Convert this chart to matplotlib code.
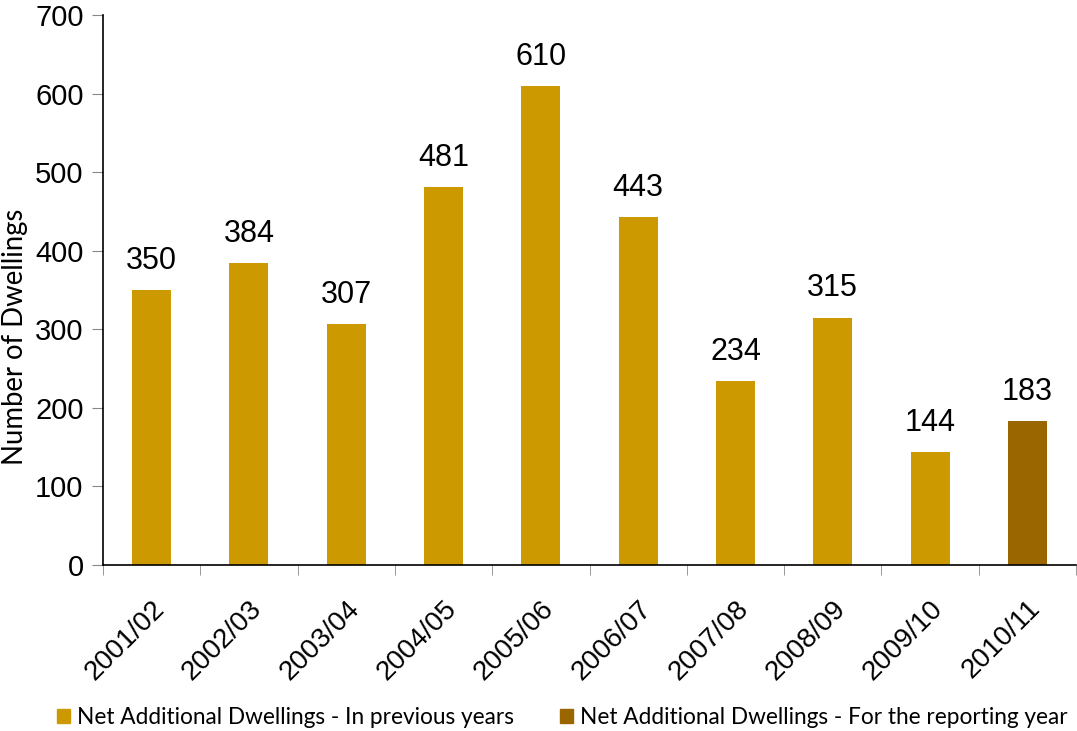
import numpy as np
import matplotlib.pyplot as plt
from matplotlib.patches import Patch

years = ["2001/02", "2002/03", "2003/04", "2004/05", "2005/06",
         "2006/07", "2007/08", "2008/09", "2009/10", "2010/11"]
dwellings = [350, 384, 307, 481, 610, 443, 234, 315, 144, 183]
reporting = [False] * 9 + [True]

prev_col = "#CC9900"
rep_col = "#996600"

fig = plt.figure(figsize=(10.77, 7.31), dpi=100)
ax = fig.add_axes([103 / 1077, 1 - 565 / 731, 973 / 1077, 550 / 731])

x = np.arange(len(years))
cols = [rep_col if r else prev_col for r in reporting]
bars = ax.bar(x, dwellings, width=0.4, color=cols)

for xi, v in zip(x, dwellings):
    ax.text(xi, v + 18, str(v), ha="center", va="bottom",
            fontsize=22, family="Liberation Sans")

ax.set_xlim(-0.5, len(years) - 0.5)
ax.set_ylim(0, 700)
ax.set_yticks(range(0, 701, 100))
ax.set_yticklabels([str(v) for v in range(0, 701, 100)],
                   fontsize=21, family="Liberation Sans")
ax.tick_params(axis="y", length=8, color="#888888", pad=6)

ax.set_xticks(x)
ax.set_xticklabels(years, rotation=45, ha="right", rotation_mode="anchor",
                   fontsize=20, family="Liberation Sans")
ax.tick_params(axis="x", which="major", length=0, pad=22)
ax.set_xticks(np.arange(-0.5, len(years), 1.0), minor=True)
ax.tick_params(axis="x", which="minor", length=7, color="#888888")

for s in ("top", "right"):
    ax.spines[s].set_visible(False)
ax.spines["left"].set_linewidth(1.2)
ax.spines["bottom"].set_linewidth(1.2)

ax.set_ylabel("Number of Dwellings", fontsize=19.8, family="Lato")
ax.yaxis.set_label_coords(-0.077, 0.415)

handles = [Patch(color=prev_col, label="Net Additional Dwellings - In previous years"),
           Patch(color=rep_col, label="Net Additional Dwellings - For the reporting year")]
fig.legend(handles=handles, loc="lower center", bbox_to_anchor=(0.522, -0.024),
           ncol=2, frameon=False, prop={"family": "Lato", "size": 16.3},
           handlelength=0.6, handleheight=0.6, handletextpad=0.3,
           columnspacing=2.0)

fig.savefig("out.png", dpi=100)
